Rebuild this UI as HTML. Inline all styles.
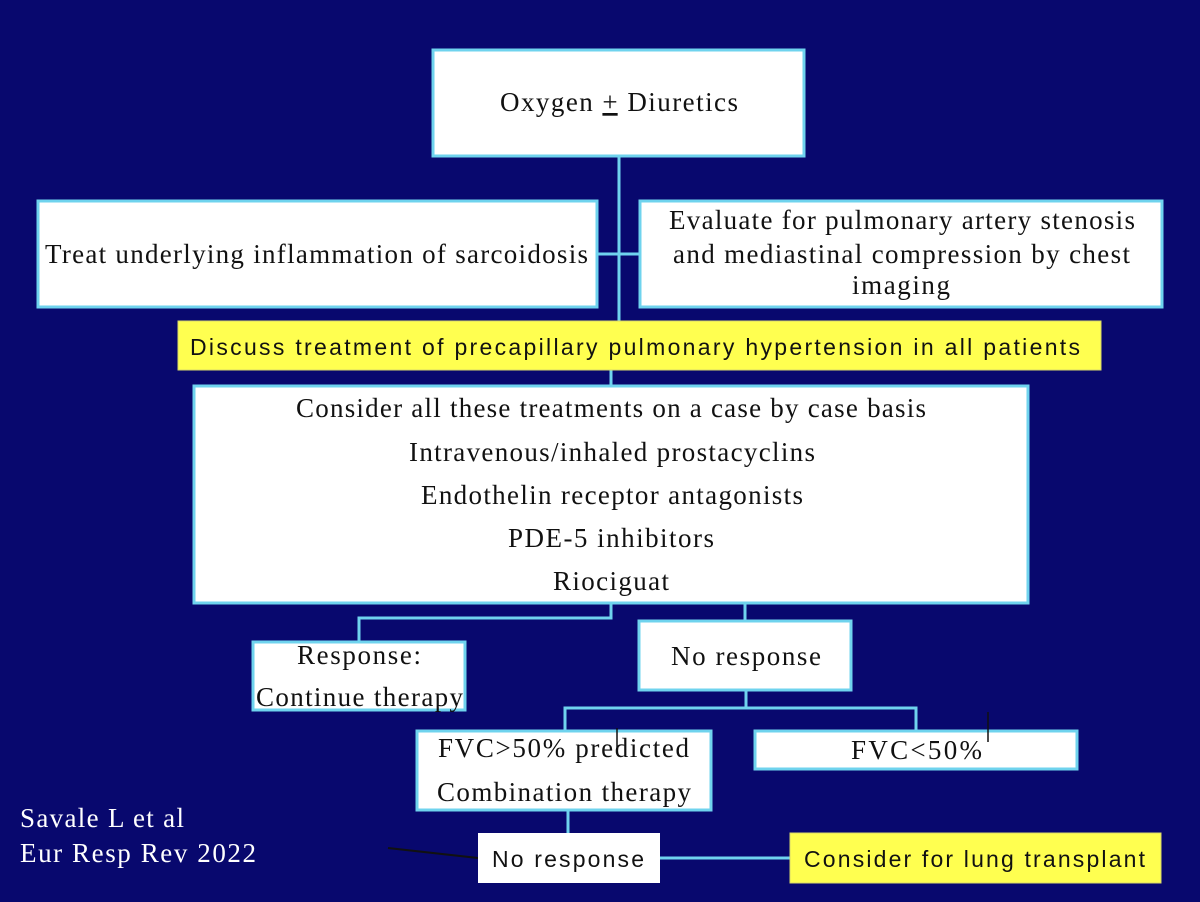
<!DOCTYPE html>
<html><head><meta charset="utf-8"><style>
html,body{margin:0;padding:0;background:#08086e;}
svg{display:block}
.s{font-family:"Liberation Serif",serif;font-size:27px;fill:#111}
.a{font-family:"Liberation Sans",sans-serif;font-size:23px;fill:#111}
</style></head><body>
<svg width="1200" height="902" viewBox="0 0 1200 902" xmlns="http://www.w3.org/2000/svg">
<rect width="1200" height="902" fill="#08086e"/>
<g stroke="#6fd3ee" stroke-width="3" fill="none">
<line x1="619" y1="157" x2="619" y2="322"/>
<line x1="598" y1="254" x2="639" y2="254"/>
<line x1="611" y1="370" x2="611" y2="386"/>
<polyline points="611,604 611,618 359,618 359,641"/>
<line x1="745" y1="604" x2="745" y2="620"/>
<polyline points="565,730 565,708 916,708 916,730"/>
<line x1="746" y1="691" x2="746" y2="708"/>
<line x1="568" y1="811" x2="568" y2="833"/>
<line x1="660" y1="858" x2="790" y2="858"/>
</g>
<line x1="388" y1="848" x2="478" y2="858" stroke="#111" stroke-width="2"/>
<g fill="#fff" stroke="#6fd3ee" stroke-width="3">
<rect x="433" y="50" width="371" height="106"/>
<rect x="38" y="201" width="559" height="106"/>
<rect x="640" y="201" width="522" height="106"/>
<rect x="194" y="386" width="834" height="217"/>
<rect x="253" y="642" width="212" height="68"/>
<rect x="639" y="621" width="212" height="69"/>
<rect x="417" y="731" width="294" height="79"/>
<rect x="755" y="731" width="322" height="38"/>
</g>
<rect x="178" y="321" width="923" height="49" fill="#ffff50" stroke="#d8d86a" stroke-width="1"/>
<rect x="478" y="833" width="182" height="50" fill="#fff"/>
<rect x="790" y="833" width="371" height="50" fill="#ffff50" stroke="#d8d86a" stroke-width="1"/>
<text class="s" x="500" y="111" textLength="238">Oxygen <tspan text-decoration="underline">+</tspan> Diuretics</text>
<text class="s" x="45" y="263" textLength="543">Treat underlying inflammation of sarcoidosis</text>
<text class="s" x="669" y="229" textLength="466">Evaluate for pulmonary artery stenosis</text>
<text class="s" x="673" y="263" textLength="457">and mediastinal compression by chest</text>
<text class="s" x="852" y="294" textLength="98">imaging</text>
<text class="a" x="190" y="355" textLength="890">Discuss treatment of  precapillary pulmonary hypertension in all patients</text>
<text class="s" x="296" y="417" textLength="630">Consider all these treatments on a case by case basis</text>
<text class="s" x="409" y="461" textLength="406">Intravenous/inhaled prostacyclins</text>
<text class="s" x="421" y="504" textLength="382">Endothelin receptor antagonists</text>
<text class="s" x="508" y="547" textLength="206">PDE-5 inhibitors</text>
<text class="s" x="553" y="590" textLength="116">Riociguat</text>
<text class="s" x="297" y="664" textLength="124">Response:</text>
<text class="s" x="256" y="706" textLength="207">Continue therapy</text>
<text class="s" x="671" y="665" textLength="150">No response</text>
<text class="s" x="438" y="757" textLength="251">FVC&gt;50% predicted</text>
<text class="s" x="437" y="801" textLength="254">Combination therapy</text>
<text class="s" x="851" y="759" textLength="131">FVC&lt;50%</text>
<text class="a" x="492" y="867" textLength="152">No response</text>
<text class="a" x="804" y="867" textLength="341">Consider for lung transplant</text>
<text class="s" x="20" y="827" style="fill:#fff" textLength="164">Savale L et al</text>
<text class="s" x="20" y="862" style="fill:#fff" textLength="236">Eur Resp Rev 2022</text>
<line x1="988" y1="712" x2="988" y2="742" stroke="#111" stroke-width="1.5"/>
<line x1="617" y1="728" x2="617" y2="752" stroke="#111" stroke-width="1.5"/>
</svg>
</body></html>
